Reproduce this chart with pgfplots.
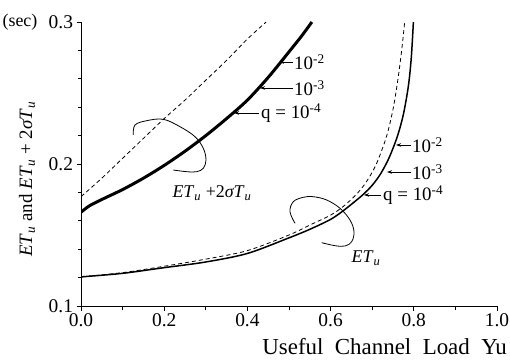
\documentclass[border=0pt]{standalone}
\usepackage{fontspec}
\setmainfont{Liberation Serif}
\usepackage{pgfplots}
\pgfplotsset{compat=1.18}
\usetikzlibrary{arrows.meta}
\newcommand{\ETu}{\textit{ET}\textsubscript{\textit{u}}}
\newcommand{\sTu}{\textit{σT}\textsubscript{\textit{u}}}
\begin{document}
\begin{tikzpicture}
\useasboundingbox (-81bp,-54bp) rectangle (429bp,306bp);
\begin{axis}[
  at={(0,0)}, anchor=south west,
  scale only axis, width=416bp, height=284bp,
  xmin=0, xmax=1, ymin=0.1, ymax=0.3,
  axis x line*=bottom, axis y line*=left,
  axis line style={-, line width=1bp},
  tick align=outside,
  major tick length=4.5bp, minor tick length=3.5bp,
  every tick/.style={black, line width=0.8bp},
  xtick={0,0.2,0.4,0.6,0.8,1},
  minor xtick={0.1,0.3,0.5,0.7,0.9},
  ytick={0.1,0.2,0.3},
  minor ytick={0.12,0.14,0.16,0.18,0.22,0.24,0.26,0.28},
  /pgf/number format/assume math mode=true,
  xticklabel style={/pgf/number format/.cd, fixed, fixed zerofill, precision=1},
  yticklabel style={/pgf/number format/.cd, fixed, fixed zerofill, precision=1},
  tick label style={font=\fontsize{19.5}{19.5}\selectfont},
  clip=true,
]
% ET_u + 2 sigma T_u, solid (q = 1e-4 .. 1e-2, overlapping)
\addplot[black, line width=3bp, smooth, tension=0.5] coordinates {
(0.0,0.166) (0.02,0.1705) (0.05,0.175) (0.1,0.182) (0.15,0.190) (0.2,0.199)
(0.25,0.209) (0.3,0.220) (0.35,0.232) (0.4,0.245) (0.45,0.261) (0.5,0.279)
(0.53,0.290) (0.555,0.300)};
% ET_u + 2 sigma T_u, dashed
\addplot[black, line width=0.8bp, dash pattern=on 4bp off 3bp, smooth, tension=0.5] coordinates {
(0.0,0.177) (0.05,0.190) (0.1,0.204) (0.15,0.218) (0.2,0.232) (0.25,0.245)
(0.3,0.259) (0.35,0.273) (0.4,0.288) (0.445,0.300)};
% ET_u solid
\addplot[black, line width=1.5bp, smooth, tension=0.5] coordinates {
(0.0,0.1205) (0.1,0.123) (0.2,0.127) (0.3,0.131) (0.4,0.137) (0.5,0.148)
(0.55,0.154) (0.6,0.161) (0.63,0.167) (0.66,0.174) (0.68,0.179) (0.70,0.185)
(0.72,0.193) (0.74,0.204) (0.76,0.219) (0.775,0.235) (0.787,0.255) (0.794,0.275) (0.799,0.300)};
% ET_u dashed
\addplot[black, line width=0.8bp, dash pattern=on 4bp off 3bp, smooth, tension=0.5] coordinates {
(0.0,0.1205) (0.1,0.1235) (0.2,0.128) (0.3,0.133) (0.4,0.139) (0.5,0.150)
(0.55,0.157) (0.6,0.164) (0.63,0.170) (0.66,0.178) (0.685,0.187) (0.71,0.200)
(0.735,0.220) (0.751,0.240) (0.763,0.262) (0.772,0.283) (0.778,0.300)};
\end{axis}
\begin{scope}[shift={(-81bp,306bp)}, x=1bp, y=-1bp]
\tikzset{lbl/.style={font=\fontsize{19}{19}\selectfont, inner sep=0pt},
         arr/.style={-{Stealth[length=5bp,width=3.5bp]}, line width=0.7bp}}
% upper annotations
\node[lbl, anchor=west] at (294,62) {10\textsuperscript{-2}};
\draw[arr] (293,62) -- (279,62);
\node[lbl, anchor=west] at (294,88) {10\textsuperscript{-3}};
\draw[arr] (293,88) -- (260,88);
\node[lbl, anchor=west] at (261,113) {q = 10\textsuperscript{-4}};
\draw[arr] (259,113) -- (234,113);
% lower annotations
\node[lbl, anchor=west] at (412,145) {10\textsuperscript{-2}};
\draw[arr] (411,145) -- (396,145);
\node[lbl, anchor=west] at (412,172) {10\textsuperscript{-3}};
\draw[arr] (411,172) -- (387,172);
\node[lbl, anchor=west] at (383,195) {q = 10\textsuperscript{-4}};
\draw[arr] (381,195) -- (364,195);
% ellipses
\draw[line width=0.8bp] plot[smooth, tension=0.6] coordinates {
(133.3,135) (135,125) (146.7,120.7) (163.3,119.3) (180,126.7) (195,136.7)
(203.3,148.3) (206,160) (203.3,168.3) (196.7,171.7) (186.7,171.7) (173.3,170)};
\draw[line width=0.8bp] plot[smooth, tension=0.6] coordinates {
(295,223.3) (290,211.7) (293.3,201.7) (303.3,197.3) (313.3,196.7) (326.7,200)
(340,208.3) (350,220) (354,231.7) (351.7,241.7) (345,246) (335,245.7) (321.7,242.7)};
\node[lbl, font=\fontsize{18}{18}\selectfont] at (212,193) {\ETu\ +2\sTu};
\node[lbl, font=\fontsize{18}{18}\selectfont] at (366,258) {\ETu};
% axis titles
\node[lbl, font=\fontsize{18}{18}\selectfont] at (20,22) {(sec)};
\node[lbl, rotate=90] at (27,179) {\ETu\ and \ETu\ + 2\sTu};
\node[lbl, font=\fontsize{23}{23}\selectfont, anchor=base east] at (507,355) {Useful\ \ Channel\ \ Load\ \ Yu};
\end{scope}
\end{tikzpicture}
\end{document}
